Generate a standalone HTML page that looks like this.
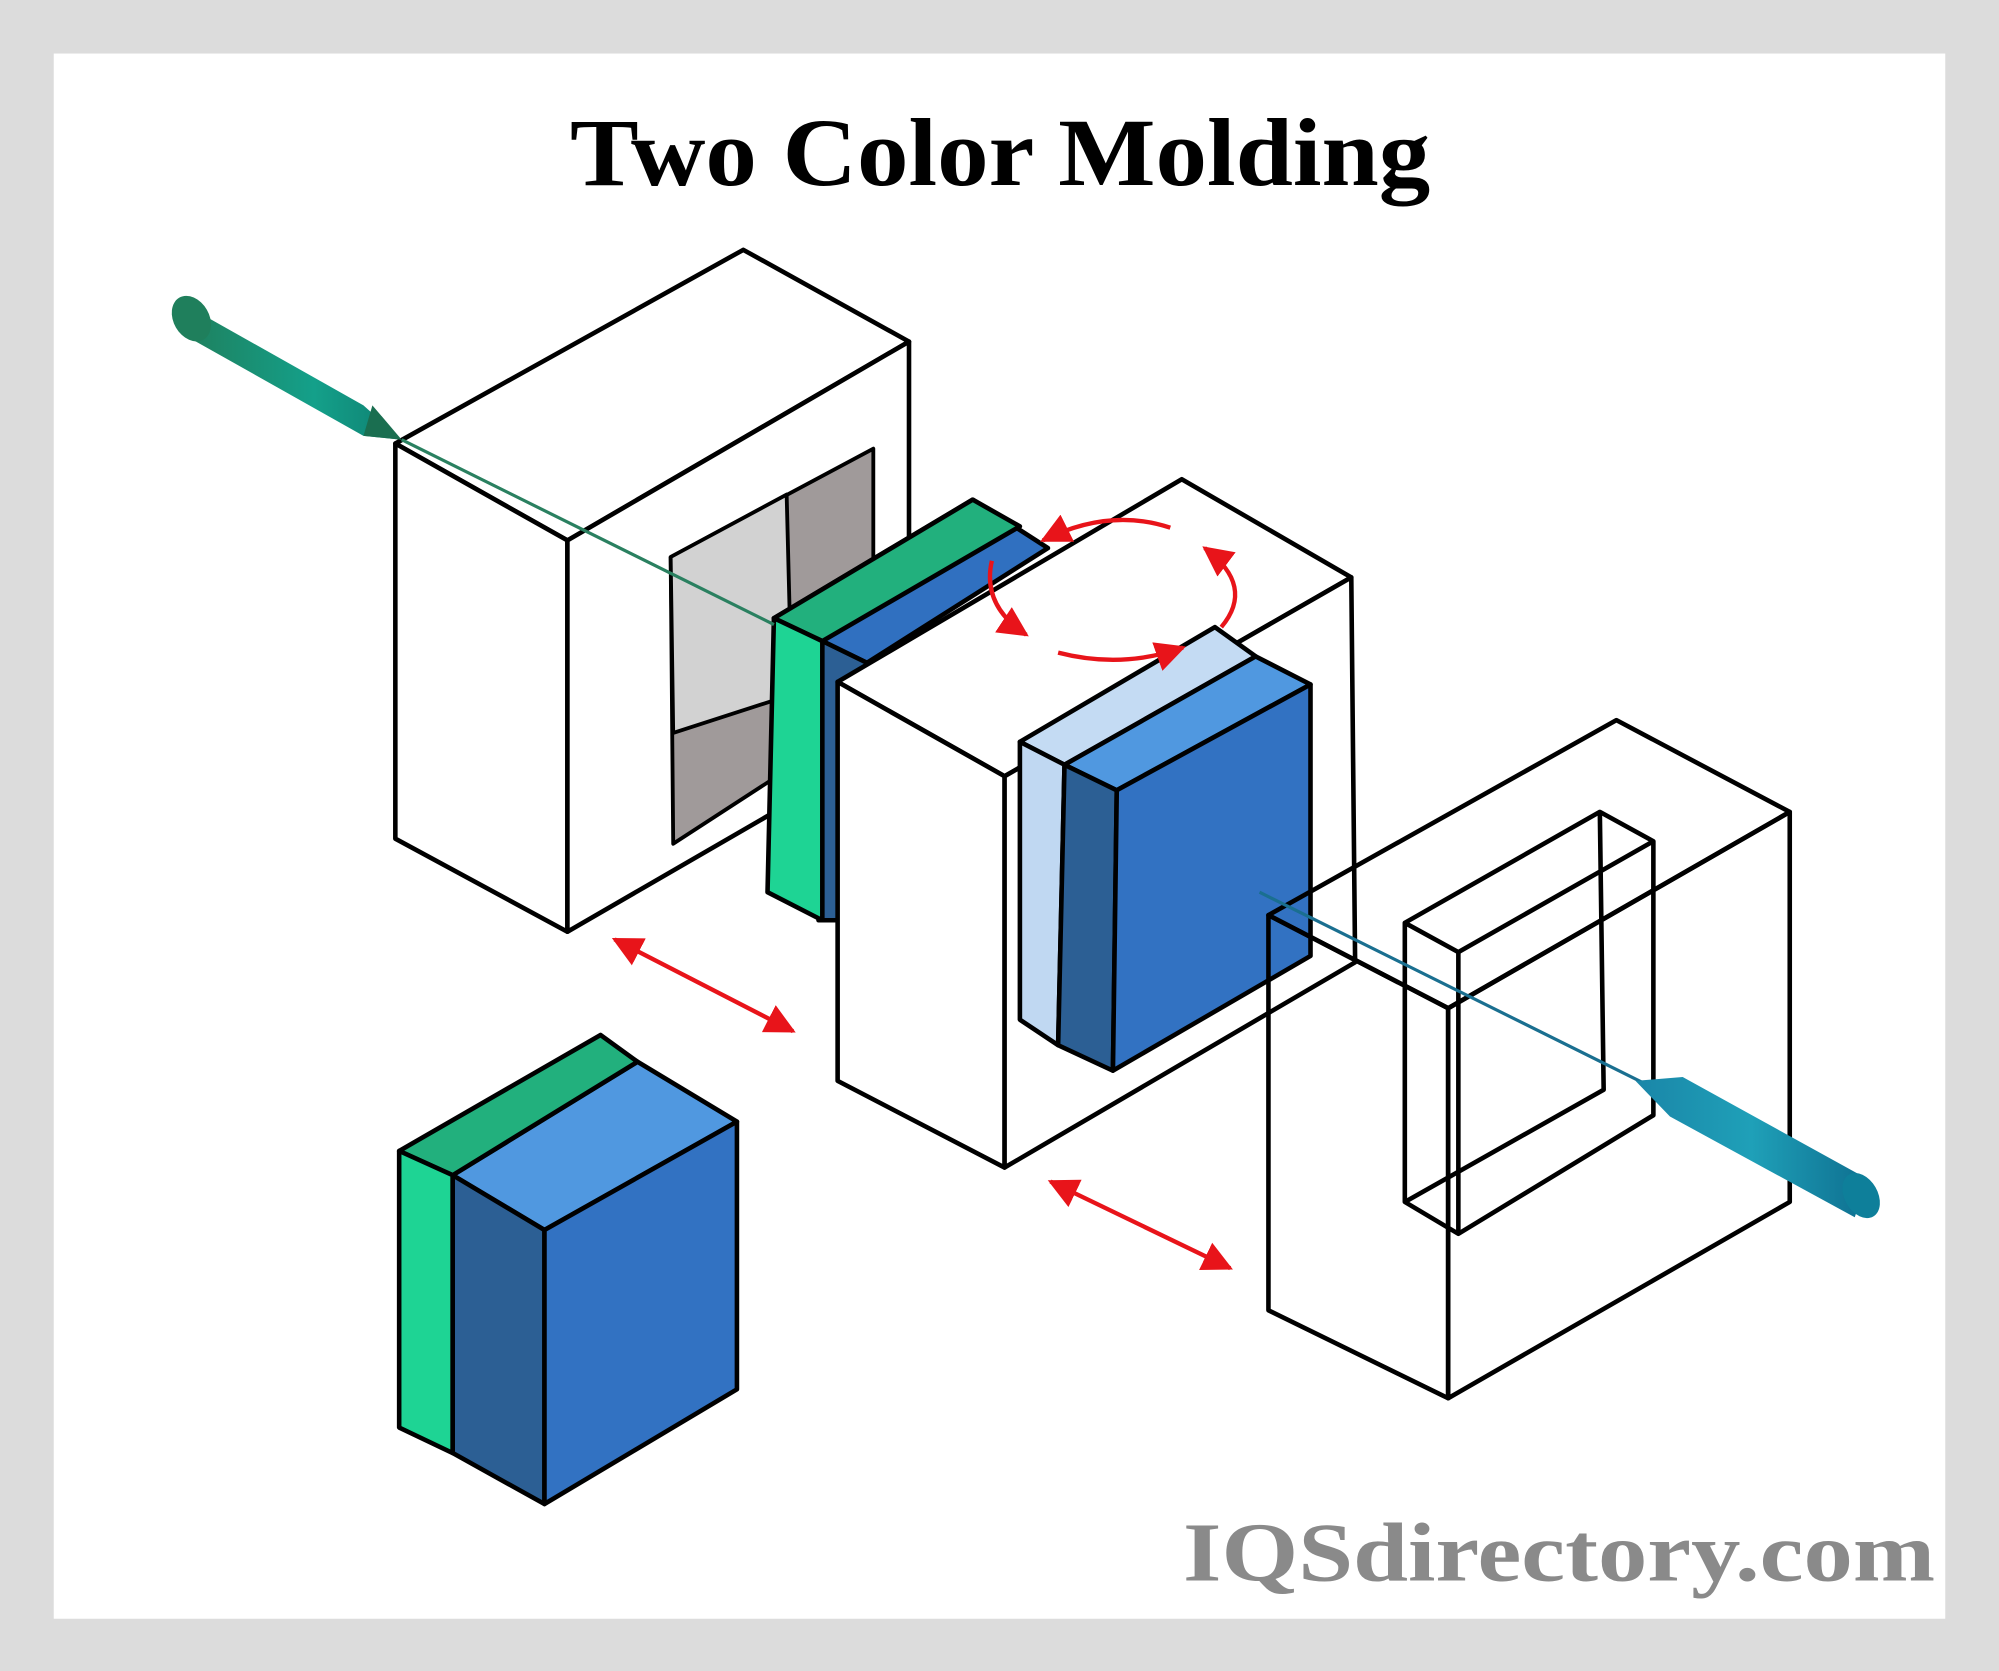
<!DOCTYPE html>
<html><head><meta charset="utf-8"><style>
html,body{margin:0;padding:0;background:#dcdcdc;}
svg{display:block;}
</style></head><body>
<svg width="1999" height="1671" viewBox="0 0 1568 1311" xmlns="http://www.w3.org/2000/svg">
<defs>
<linearGradient id="gn" x1="0" y1="0" x2="1" y2="0">
<stop offset="0" stop-color="#1f7f5c"/><stop offset="0.6" stop-color="#14a08a"/><stop offset="1" stop-color="#0e7f70"/></linearGradient>
<linearGradient id="bn" x1="0" y1="0" x2="1" y2="0">
<stop offset="0" stop-color="#1a86a8"/><stop offset="0.5" stop-color="#1fa0b8"/><stop offset="1" stop-color="#0e6f90"/></linearGradient>
<marker id="ah" viewBox="0 0 10 10" refX="9" refY="5" markerWidth="7" markerHeight="7" orient="auto-start-reverse">
<path d="M0,0 L10,5 L0,10 z" fill="#e8141a"/></marker>
</defs>
<rect x="0" y="0" width="1568" height="1311" fill="#dcdcdc"/>
<rect x="42" y="42" width="1484" height="1228" fill="#fff"/>
<text x="447" y="145" textLength="675" lengthAdjust="spacingAndGlyphs" font-family="Liberation Serif, serif" font-weight="bold" font-size="76" fill="#000">Two Color Molding</text>

<g stroke="#000" stroke-width="3.6" stroke-linejoin="round" fill="#fff">
<!-- left mold -->
<polygon points="310,348 583,196 713,268 445,424"/>
<polygon points="310,348 445,424 445,731 310,658"/>
<polygon points="445,424 713,268 713,576 445,731"/>
<polygon points="526,437 685,352 685,560 528,662" fill="#a09a9a" stroke-width="3"/>
<polygon points="526,437 617,388 621,545 528,575" fill="#d2d2d2" stroke-width="3"/>
<!-- green/blue plate -->
<polygon points="607,485 763,392 822,430 680,520 645,503" fill="#3070c0"/>
<polygon points="607,485 763,392 800,413 645,503" fill="#22b07d"/>
<polygon points="645,503 680,520 680,722 642,722" fill="#2c5f94"/>
<polygon points="607,485 645,503 645,722 602,700" fill="#1ed494"/>
<!-- middle mold -->
<polygon points="657,535 927,376 1060,453 788,609"/>
<polygon points="657,535 788,609 788,916 657,848"/>
<polygon points="788,609 1060,453 1063,755 788,916"/>
<!-- blue block -->
<polygon points="800,582 953,492 985,515 835,600" fill="#c4dbf3"/>
<polygon points="835,600 985,515 1028,537 876,620" fill="#5098e0"/>
<polygon points="800,582 835,600 830,820 800,800" fill="#c0d8f2"/>
<polygon points="835,600 876,620 873,840 830,820" fill="#2c5f94"/>
<polygon points="876,620 1028,537 1028,750 873,840" fill="#3272c2"/>
<!-- right mold -->
<polygon points="995,718 1268,565 1404,637 1136,791" fill="none"/>
<polygon points="995,718 1136,791 1136,1097 995,1028" fill="none"/>
<polygon points="1136,791 1404,637 1404,943 1136,1097" fill="none"/>
<polyline points="1102,724 1255,637 1297,660 1144,747 1102,724 1102,943 1144,968 1297,875 1297,660" fill="none"/>
<polyline points="1144,747 1144,968" fill="none"/>
<polyline points="1255,637 1258,855 1102,943" fill="none"/>
<!-- bottom product -->
<polygon points="355,922 500,833 578,880 427,965" fill="#5098e0"/>
<polygon points="313,903 471,812 500,833 355,922" fill="#22b07d"/>
<polygon points="313,903 355,922 355,1140 313,1120" fill="#1ed494"/>
<polygon points="355,922 427,965 427,1180 355,1140" fill="#2c5f94"/>
<polygon points="427,965 578,880 578,1090 427,1180" fill="#3272c2"/>
</g>

<!-- nozzles -->
<line x1="315" y1="345" x2="607" y2="490" stroke="#2a8060" stroke-width="2.5"/>
<path d="M143,238 L285,318 L315,345 L285,342 L143,262 Z" fill="url(#gn)"/>
<polygon points="292,318 315,345 285,342" fill="#1a6e50"/>
<ellipse cx="150" cy="250" rx="14" ry="19" transform="rotate(-30 150 250)" fill="#1f7f5c"/>
<line x1="988" y1="700" x2="1290" y2="850" stroke="#1a6f90" stroke-width="2.5"/>
<path d="M1283,848 L1320,845 L1465,925 L1455,955 L1310,876 Z" fill="url(#bn)"/>
<ellipse cx="1460" cy="938" rx="13" ry="19" transform="rotate(-30 1460 938)" fill="#0e7f9a"/>

<!-- red arrows -->
<g stroke="#e8141a" stroke-width="3.4" fill="none" marker-start="url(#ah)" marker-end="url(#ah)">
<line x1="482" y1="737" x2="622" y2="809"/>
<line x1="824" y1="927" x2="965" y2="995"/>
</g>
<g stroke="#e8141a" stroke-width="3.4" fill="none" marker-end="url(#ah)">
<path d="M918,414 Q870,398 818,424"/>
<path d="M778,440 Q770,475 805,498"/>
<path d="M830,512 Q880,525 928,508"/>
<path d="M958,492 Q985,460 945,430"/>
</g>

<text x="928" y="1240" textLength="590" lengthAdjust="spacingAndGlyphs" font-family="Liberation Serif, serif" font-weight="bold" font-size="66" fill="#8a8a8a">IQSdirectory.com</text>
</svg>
</body></html>
